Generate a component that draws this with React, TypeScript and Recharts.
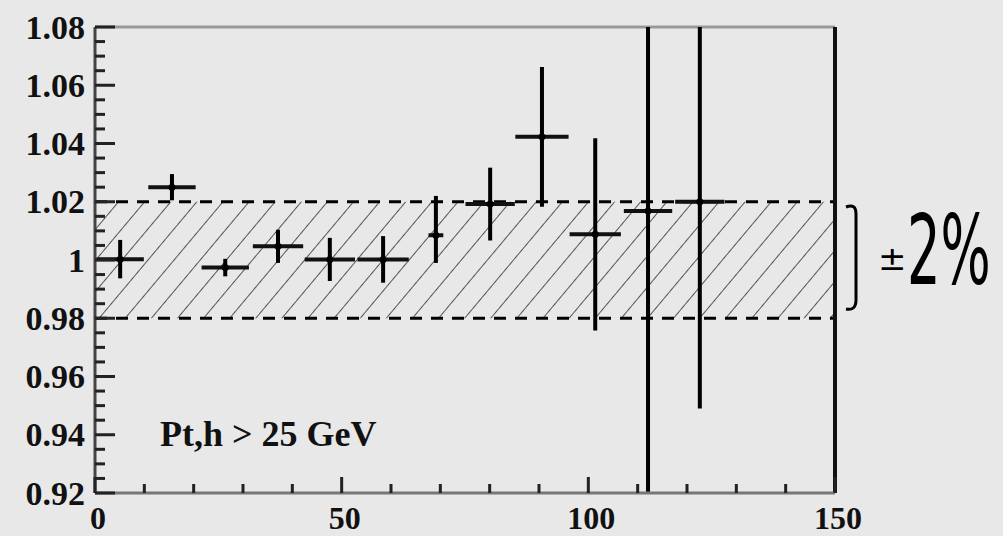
import React from "react";
import {
  ComposedChart,
  Scatter,
  ErrorBar,
  XAxis,
  YAxis,
  ReferenceArea,
  ReferenceLine
} from "recharts";

// bin centres (GeV) and half widths
const ptCenters = [5.1, 15.6, 26.4, 37.1, 47.6, 58.4, 69.1, 80.1, 90.6, 101.4, 112.1, 122.6];
const binHalfWidths = [4.8, 4.8, 4.8, 5.1, 5.1, 5.2, 1.5, 5.0, 5.4, 5.2, 4.9, 5.0];
// ratio values and their errors [down, up] as far as they are visible in the frame
const ratios = [1.0003, 1.025, 0.9974, 1.0047, 1.0002, 1.0002, 1.0085, 1.0192, 1.0423, 1.0088, 1.0168, 1.02];
const errorsDown = [0.0066, 0.0045, 0.003, 0.0057, 0.0074, 0.008, 0.0095, 0.0125, 0.024, 0.033, 0.0968, 0.071];
const errorsUp = [0.0066, 0.0045, 0.003, 0.0057, 0.0074, 0.008, 0.0135, 0.0125, 0.024, 0.033, 0.0632, 0.06];

const yMajorTicks = [0.92, 0.94, 0.96, 0.98, 1.0, 1.02, 1.04, 1.06, 1.08];
const yMinorTicks = [0.925, 0.93, 0.935, 0.945, 0.95, 0.955, 0.965, 0.97, 0.975, 0.985, 0.99, 0.995, 1.005, 1.01, 1.015, 1.025, 1.03, 1.035, 1.045, 1.05, 1.055, 1.065, 1.07, 1.075];
const xMajorTicks = [0, 50, 100, 150];
const xMinorTicks = [10, 20, 30, 40, 60, 70, 80, 90, 110, 120, 130, 140];

const bandLow = 0.98;
const bandHigh = 1.02;

const data = ptCenters.map((pt, i) => ({
  pt,
  ratio: ratios[i],
  ex: binHalfWidths[i],
  ey: [errorsDown[i], errorsUp[i]]
}));

const serif = "'Liberation Serif', 'Times New Roman', serif";

const YTick = (props: any) => {
  const { x, y, payload } = props;
  const v = payload.value;
  const major = yMajorTicks.some((t) => Math.abs(t - v) < 1e-6);
  const axisX = x + 10;
  return (
    <g>
      <line x1={axisX} x2={axisX + (major ? 20 : 10)} y1={y} y2={y} stroke="#222" strokeWidth={3} />
      {major && (
        <text
          x={x}
          y={y}
          textAnchor="end"
          dominantBaseline="central"
          fontFamily={serif}
          fontWeight="bold"
          fontSize={34}
          fill="#111"
        >
          {Math.abs(v - 1) < 1e-6 ? "1" : v.toFixed(2)}
        </text>
      )}
    </g>
  );
};

const XTick = (props: any) => {
  const { x, y, payload } = props;
  const v = payload.value;
  const major = xMajorTicks.includes(v);
  return (
    <g>
      <line x1={x} x2={x} y1={y} y2={y - (major ? 16 : 9)} stroke="#222" strokeWidth={3} />
      {major && (
        <text
          x={x + 3}
          y={y + 36}
          textAnchor="middle"
          fontFamily={serif}
          fontWeight="bold"
          fontSize={32}
          fill="#111"
        >
          {v}
        </text>
      )}
    </g>
  );
};

const Dot = (props: any) => {
  const { cx, cy } = props;
  return <circle cx={cx} cy={cy} r={3.5} fill="#000" />;
};

export default function App() {
  const yTicks = [...yMajorTicks, ...yMinorTicks].sort((a, b) => a - b);
  const xTicks = [...xMajorTicks, ...xMinorTicks].sort((a, b) => a - b);
  return (
    <div
      style={{
        position: "absolute",
        left: 0,
        top: 0,
        width: 1003,
        height: 536,
        background: "#e8e8e8",
        overflow: "hidden"
      }}
    >
      <ComposedChart
        width={1003}
        height={536}
        data={data}
        margin={{ top: 27, right: 168, bottom: 0, left: 0 }}
      >
        <defs>
          <pattern
            id="hatch"
            width={20}
            height={20}
            patternUnits="userSpaceOnUse"
            patternTransform="rotate(40)"
          >
            <line x1={0} y1={0} x2={0} y2={20} stroke="#555" strokeWidth={2} />
          </pattern>
        </defs>
        <XAxis
          dataKey="pt"
          type="number"
          domain={[0, 150]}
          ticks={xTicks}
          interval={0}
          tickLine={false}
          tickSize={0}
          tickMargin={0}
          tick={<XTick />}
          axisLine={{ stroke: "#777", strokeWidth: 3 }}
          height={43}
          allowDataOverflow
        />
        <YAxis
          dataKey="ratio"
          type="number"
          domain={[0.92, 1.08]}
          ticks={yTicks}
          interval={0}
          tickLine={false}
          tickSize={0}
          tickMargin={10}
          tick={<YTick />}
          axisLine={{ stroke: "#444", strokeWidth: 3 }}
          width={95}
          allowDataOverflow
        />
        <ReferenceArea y1={bandLow} y2={bandHigh} fill="url(#hatch)" fillOpacity={1} stroke="none" />
        <ReferenceLine y={bandHigh} stroke="#000" strokeWidth={3} strokeDasharray="12 9" />
        <ReferenceLine y={bandLow} stroke="#000" strokeWidth={3} strokeDasharray="12 9" />
        <ReferenceLine y={1.08} stroke="#999" strokeWidth={3} />
        <ReferenceLine x={150} stroke="#111" strokeWidth={4} />
        <Scatter dataKey="ratio" shape={<Dot />} isAnimationActive={false}>
          <ErrorBar dataKey="ey" direction="y" width={0} stroke="#000" strokeWidth={4} isAnimationActive={false} />
          <ErrorBar dataKey="ex" direction="x" width={0} stroke="#111" strokeWidth={4} isAnimationActive={false} />
        </Scatter>
      </ComposedChart>
      <svg
        width={1003}
        height={536}
        style={{ position: "absolute", left: 0, top: 0, pointerEvents: "none" }}
      >
        <text x={160} y={446} fontFamily={serif} fontWeight="bold" fontSize={36} fill="#111">
          Pt,h &gt; 25 GeV
        </text>
        <path
          d="M 846 207 Q 856 203 856 214 L 856 300 Q 856 311 846 309"
          stroke="#000"
          strokeWidth={3}
          fill="none"
        />
        <text x={878} y={270} fontFamily="'DejaVu Sans', sans-serif" fontSize={34} fill="#000">
          ±
        </text>
        <text
          transform="translate(907,284) scale(0.55,1)"
          fontFamily="'DejaVu Sans', sans-serif"
          fontSize={96}
          fill="#000"
        >
          2%
        </text>
      </svg>
    </div>
  );
}
